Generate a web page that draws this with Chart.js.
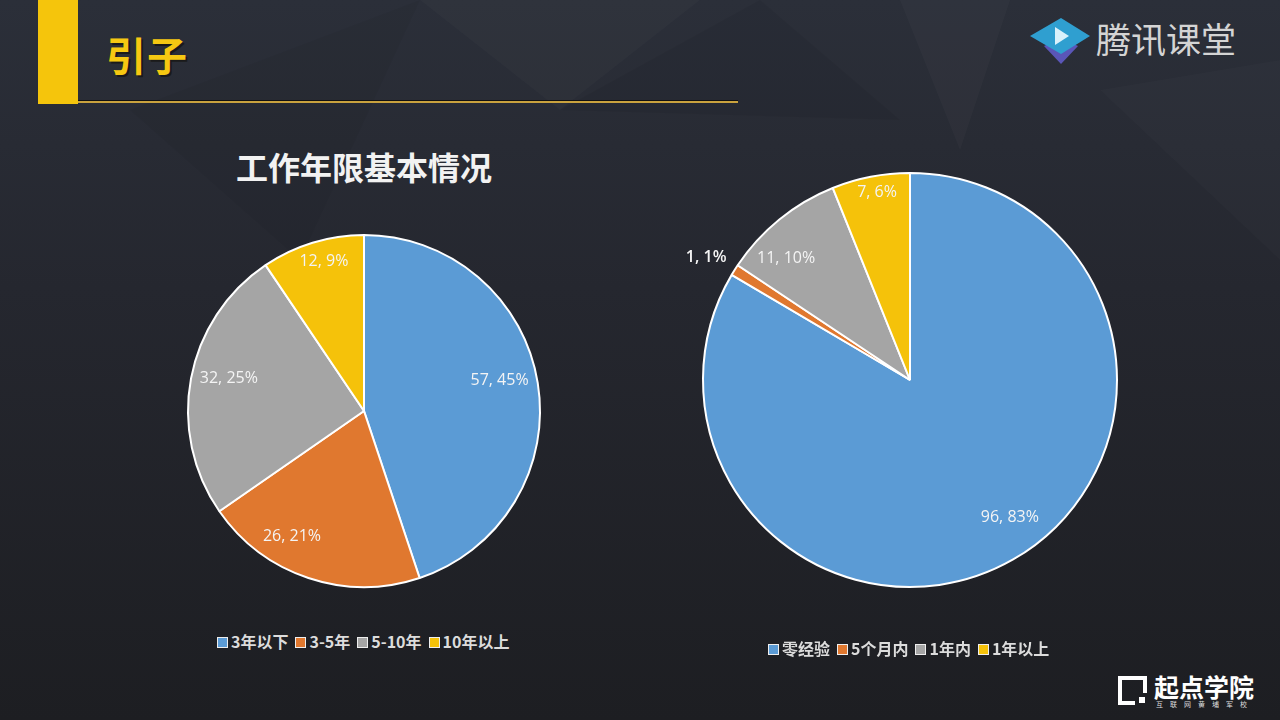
<!DOCTYPE html>
<html>
<head>
<meta charset="utf-8">
<script src="https://cdn.jsdelivr.net/npm/chart.js@4.4.0/dist/chart.umd.min.js"></script>
<style>
  html, body { margin: 0; padding: 0; }
  body {
    width: 1280px; height: 720px; overflow: hidden; position: relative;
    background: linear-gradient(180deg, #2b2f39 0%, #25272f 40%, #1d1e22 100%);
    font-family: "Noto Sans CJK SC", "Noto Sans", sans-serif;
  }
  .bg { position: absolute; left: 0; top: 0; }
  .bar { position: absolute; left: 38px; top: 0; width: 40px; height: 104px; background: #f5c50c; }
  .rule { position: absolute; left: 78px; top: 101px; width: 660px; height: 2px; background: #c9a23e;
          box-shadow: 0 -1px 0 #111; }
  .heading { position: absolute; left: 106px; top: 26px; font-size: 40px; font-weight: 700; color: #f6c812;
             letter-spacing: 1px; text-shadow: 2px 2px 0 #1a1a1a; line-height: 56px; }
  .logo1 { position: absolute; left: 1030px; top: 16px; }
  .logo1 span { position: absolute; left: 66px; top: -3px; font-size: 35px; color: #d4d4d4; white-space: nowrap; line-height: 50px; }
  .logo2 { position: absolute; left: 1118px; top: 674px; }
  .title { position: absolute; left: 164px; width: 400px; top: 144px; text-align: center; font-size: 32px;
           font-weight: 700; color: #f2f2f2; line-height: 44px; }
  .box { position: absolute; }
  .legend { position: absolute; display: flex; gap: 7px; font-size: 16px; font-weight: 700; color: #dcdcdc; white-space: nowrap; }
  .legend i { display: inline-block; width: 9px; height: 9px; border: 1px solid #eee; margin-right: 3px; vertical-align: 0px; }
</style>
</head>
<body>
<svg class="bg" width="1280" height="720">
  <polygon points="420,0 700,0 560,110" fill="#ffffff" opacity="0.02"/>
  <polygon points="560,110 760,0 900,120" fill="#000000" opacity="0.05"/>
  <polygon points="900,0 1010,0 960,150" fill="#ffffff" opacity="0.025"/>
  <polygon points="130,110 420,0 300,260" fill="#000000" opacity="0.04"/>
  <polygon points="1100,90 1280,60 1280,260" fill="#ffffff" opacity="0.015"/>
</svg>
<div class="bar"></div>
<div class="rule"></div>
<div class="heading">引子</div>
<div class="logo1">
  <svg width="62" height="50" viewBox="0 0 62 50">
    <polygon points="14,30 31,22 48,30 31,48" fill="#5a56b8"/>
    <polygon points="0,20 31,2 60,20 31,38" fill="#2f9fd0"/>
    <polygon points="25,11 25,29 39,20" fill="#d9f1fb"/>
  </svg>
  <span>腾讯课堂</span>
</div>
<div class="logo2">
  <svg width="150" height="34">
    <rect x="2" y="4" width="25" height="25" fill="none" stroke="#fff" stroke-width="4"/>
    <rect x="17" y="19" width="12" height="12" fill="#1d1e22"/>
    <rect x="21" y="23" width="6" height="6" fill="#fff"/>
    <text x="36" y="23" fill="#fff" font-size="25" font-weight="700" font-family="Noto Sans CJK SC">起点学院</text>
    <text x="38" y="33" fill="#ddd" font-size="7" letter-spacing="7" font-family="Noto Sans CJK SC">互联网黄埔军校</text>
  </svg>
</div>

<div class="title">工作年限基本情况</div>
<div class="box" style="left:183px; top:230px; width:362px; height:362px;"><canvas id="leftPie"></canvas></div>
<div class="box" style="left:648px; top:118px; width:524px; height:524px;"><canvas id="rightPie"></canvas></div>
<div class="legend" id="leftLegend" style="left:217px; top:629px;"></div>
<div class="legend" id="rightLegend" style="left:768px; top:636px;"></div>

<script>
// ---- data ----
const yearsLabels = ['3年以下', '3-5年', '5-10年', '10年以上'];
const yearsValues = [57, 26, 32, 12];
const yearsPercents = [45, 21, 25, 9];

const expLabels = ['零经验', '5个月内', '1年内', '1年以上'];
const expValues = [96, 1, 11, 7];
const expPercents = [83, 1, 10, 6];

const sliceColors = ['#5b9bd5', '#e0782f', '#a5a5a5', '#f5c20a'];

// draws "value, pct%" near the outer edge of each slice (Excel "inside end" style)
const sliceLabels = {
  id: 'sliceLabels',
  afterDatasetsDraw(chart, args, opts) {
    const { ctx } = chart;
    const meta = chart.getDatasetMeta(0);
    const values = chart.data.datasets[0].data;
    ctx.save();
    ctx.textAlign = 'center';
    ctx.textBaseline = 'middle';
    meta.data.forEach((arc, i) => {
      const p = arc.getProps(['x', 'y', 'startAngle', 'endAngle', 'outerRadius'], true);
      const mid = (p.startAngle + p.endAngle) / 2 + opts.nudge[i] * Math.PI / 180;
      const r = p.outerRadius * opts.radius[i];
      ctx.font = (opts.bold && opts.bold[i] ? '600 ' : '') + '16px "Open Sans", sans-serif';
      ctx.fillStyle = opts.color;
      ctx.fillText(values[i] + ', ' + opts.percents[i] + '%', p.x + Math.cos(mid) * r, p.y + Math.sin(mid) * r);
    });
    ctx.restore();
  }
};

function makePie(id, labels, values, percents, padding, labelPos) {
  return new Chart(document.getElementById(id), {
    type: 'pie',
    data: {
      labels: labels,
      datasets: [{
        data: values,
        backgroundColor: sliceColors,
        borderColor: '#ffffff',
        borderWidth: 2
      }]
    },
    options: {
      responsive: true,
      maintainAspectRatio: false,
      animation: false,
      layout: { padding: padding },
      plugins: {
        legend: { display: false },
        tooltip: { enabled: false },
        sliceLabels: Object.assign({ percents: percents, color: '#f4f4f4' }, labelPos)
      }
    },
    plugins: [sliceLabels]
  });
}

function buildLegend(id, labels) {
  const el = document.getElementById(id);
  labels.forEach((l, i) => {
    const s = document.createElement('span');
    s.innerHTML = '<i style="background:' + sliceColors[i] + '"></i>' + l;
    el.appendChild(s);
  });
}

makePie('leftPie', yearsLabels, yearsValues, yearsPercents, 4,
  { radius: [0.79, 0.82, 0.79, 0.88], nudge: [-3.6, 11.5, 3, 2] });
makePie('rightPie', expLabels, expValues, expPercents, 54,
  { radius: [0.82, 1.15, 0.84, 0.92], nudge: [-6.3, -1, -6.3, 1], bold: [false, true, false, false] });
buildLegend('leftLegend', yearsLabels);
buildLegend('rightLegend', expLabels);
</script>
</body>
</html>
